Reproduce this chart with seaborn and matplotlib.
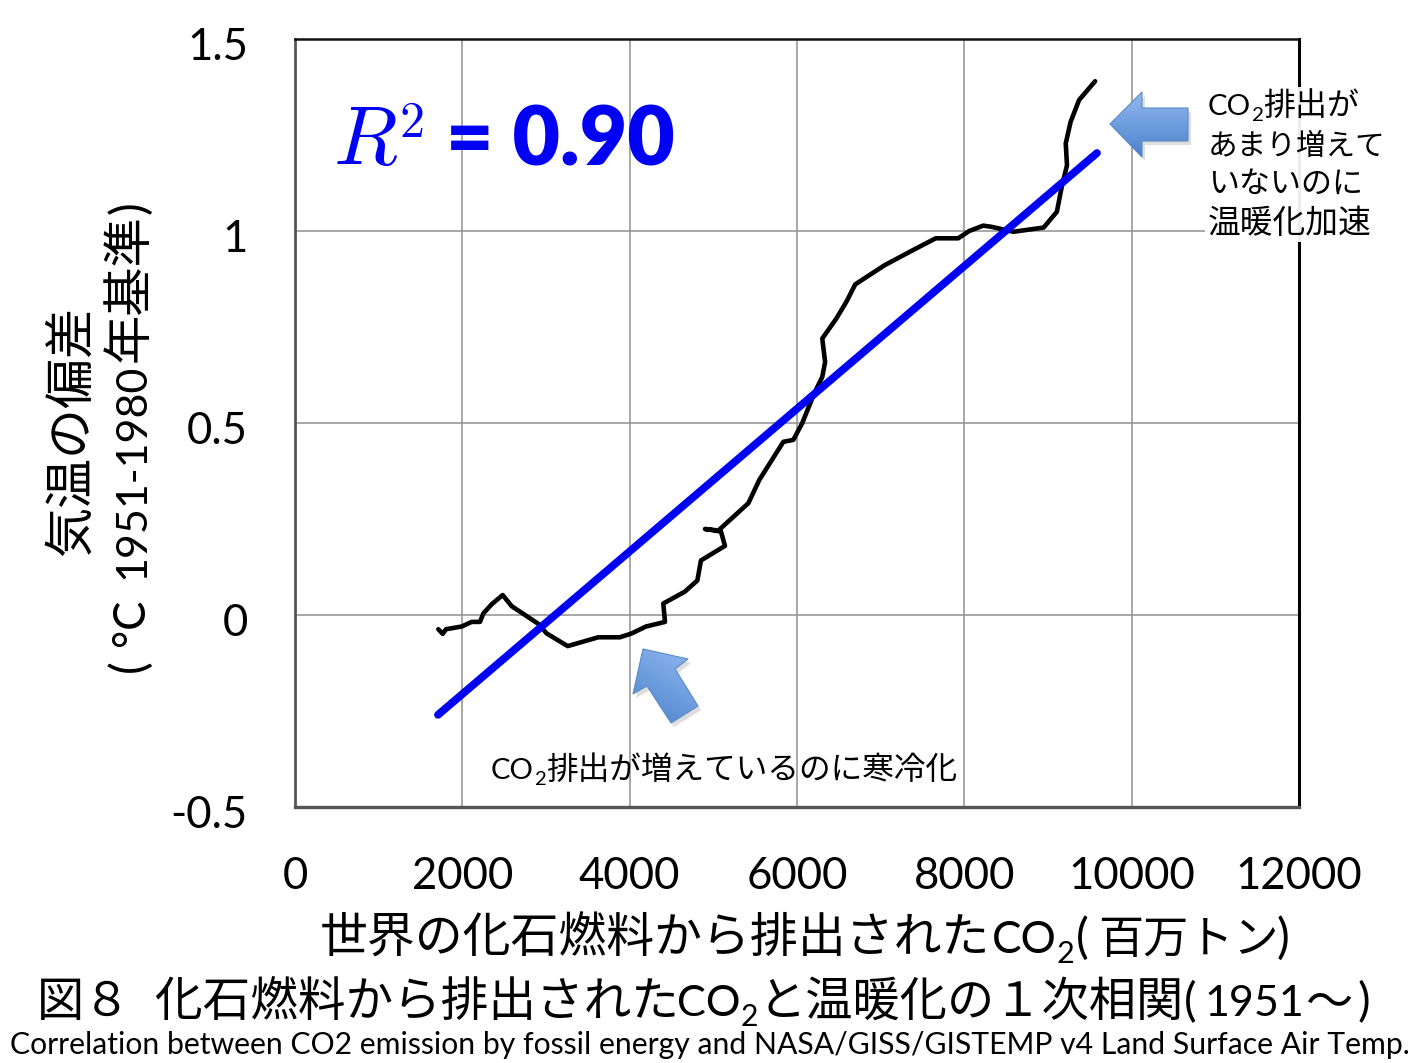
import matplotlib
matplotlib.use('Agg')
import matplotlib.pyplot as plt
from matplotlib.patches import Polygon, Rectangle
from matplotlib.transforms import ScaledTranslation
import numpy as np
import seaborn as sns

# CO2 emission (million tons) vs temperature anomaly
co2 = [1713,1765,1805,1992,2112,2211,2251,2351,2482,2590,2908,3008,3259,3625,3884,4024,4195,4422,4402,
	4661,4809,4852,5139,5092,5020,4900,5060,5418,5550,5837,5956,6061,6206,6302,6336,6302,6470,6591,6696,
	7048,7384,7658,7928,8058,8226,8322,8587,8948,9106,9164,9227,9212,9270,9371,9563]
temp = [-0.037,-0.049,-0.037,-0.030,-0.018,-0.018,0.004,0.028,0.052,0.023,-0.023,-0.048,-0.081,-0.058,-0.058,
	-0.048,-0.030,-0.018,0.030,0.061,0.090,0.142,0.180,0.217,0.220,0.224,0.220,0.291,0.352,0.451,0.456,0.499,
	0.577,0.620,0.659,0.720,0.772,0.816,0.861,0.911,0.950,0.981,0.981,1.000,1.014,1.011,0.998,1.009,1.050,
	1.115,1.171,1.228,1.284,1.341,1.390]
fit_x = [1709,9585]
fit_y = [-0.26,1.203]

xticks = [0,2000,4000,6000,8000,10000,12000]
yticks = [-0.5,0,0.5,1,1.5]
ylabels = ['-0.5','0','0.5','1','1.5']

W,H = 1416,1063
sns.set_theme(style='white')
jp = ['Lato','Noto Sans CJK JP']
plt.rcParams['font.family'] = jp
plt.rcParams['mathtext.fontset'] = 'cm'

f = plt.figure(figsize=(W/100,H/100),dpi=100)
ax = f.add_axes([295/W,1-807/H,(1299-295)/W,(807-39)/H])
sns.lineplot(x=co2,y=temp,sort=False,estimator=None,color='black',linewidth=3.3,ax=ax,
	solid_capstyle='round',solid_joinstyle='round',zorder=3)
sns.lineplot(x=fit_x,y=fit_y,sort=False,estimator=None,color='#0000f5',linewidth=5.6,ax=ax,
	solid_capstyle='round',zorder=4)
ax.set_xlim(0,12000)
ax.set_ylim(-0.5,1.5)
ax.set_xticks(xticks)
ax.set_xticklabels([str(i) for i in xticks])
ax.set_yticks(yticks)
ax.set_yticklabels(ylabels)
ax.grid(True,color='#8f8f8f',linewidth=1.1)
ax.set_axisbelow(True)
ax.tick_params(axis='both',length=0,labelsize=31.5,colors='black')
ax.tick_params(axis='x',pad=35)
ax.tick_params(axis='y',pad=34)
for t in ax.get_yticklabels():
	t.set_transform(t.get_transform()+ScaledTranslation(0,-3.5/72,f.dpi_scale_trans))
ax.spines['top'].set(color='#111111',linewidth=1.8)
ax.spines['right'].set(color='black',linewidth=2.2)
ax.spines['left'].set(color='#555555',linewidth=2)
ax.spines['bottom'].set(color='#555555',linewidth=2.4)

# overlay in picture pixels for the notes and arrows
ov = f.add_axes([0,0,1,1],zorder=5)
ov.set_xlim(0,W)
ov.set_ylim(H,0)
ov.axis('off')
ov.patch.set_alpha(0)

def put(x,y,txt,size,rot=0):
	return ov.text(x,y,txt,fontsize=size,family=jp,rotation=rot,rotation_mode='anchor',
		va='baseline',ha='left',color='black',zorder=8)

def co2_run(x,y,size):
	# CO with a small 2 after it, latin face is set a bit smaller than the kana
	t = put(x,y,'CO',size*0.92)
	x2 = t.get_window_extent(f.canvas.get_renderer()).x1
	t = put(x2,y+size*0.28,'2',size*0.64)
	return t.get_window_extent(f.canvas.get_renderer()).x1

def arrow(pts,c1,c2,mix=0.0):
	pts = np.array(pts,dtype=float)
	ov.add_patch(Polygon(pts+[3,4],closed=True,fc='#555555',ec='none',alpha=0.2,zorder=5))
	g = np.linspace(0,1,64).reshape(-1,1)
	g = np.hstack([g]*64)
	g = g*(1-mix)+g.T[:,::-1]*mix
	c1,c2 = np.array(matplotlib.colors.to_rgb(c1)),np.array(matplotlib.colors.to_rgb(c2))
	img = c1+(c2-c1)*g[...,None]
	x0,y0 = pts.min(axis=0)
	x1,y1 = pts.max(axis=0)
	im = ov.imshow(img,extent=[x0,x1,y1,y0],aspect='auto',zorder=6,interpolation='bilinear')
	p = Polygon(pts,closed=True,fc='none',ec='#5b8ac4',lw=0.8,zorder=7)
	ov.add_patch(p)
	im.set_clip_path(p)
	ov.set_xlim(0,W)
	ov.set_ylim(H,0)

arrow([(1110,124),(1142,92),(1142,108),(1188,108),(1188,141),(1142,141),(1142,157)],'#93b9f0','#4a82cc')
arrow([(643,649),(688,659),(675,669),(698,706),(671,723),(647,686),(633,694)],'#93b9f0','#4a82cc',0.35)

# white box of the side note cuts the right frame
ov.add_patch(Rectangle((1205,87),185,155,fc='white',ec='none',alpha=0.93,zorder=4))
x = co2_run(1208,115,23)
put(x,115,'排出が',23)
put(1208,155,'あまり増えて',21.3)
put(1208,193,'いないのに',22.3)
put(1208,233,'温暖化加速',23.6)
x = co2_run(491,779,22.8)
put(x,779,'排出が増えているのに寒冷化',22.8)

ov.text(333,164,r'$R$',fontsize=60,color='#0000f5',va='baseline',ha='left',zorder=8)
ov.text(399,137,r'$\mathit{2}$',fontsize=36,color='#0000f5',va='baseline',ha='left',zorder=8)
ov.text(446,165,'= 0.90',fontsize=59,color='#0000f5',fontweight='heavy',family=['Lato'],va='baseline',ha='left',zorder=8)

# rotated y label, one piece after the other going up
put(86,556,'気温の偏差',36,rot=90)
put(144,672,'(',34.5,rot=90)
put(144,646,'°C',31.5,rot=90)
put(144,579,'1951-1980',31,rot=90)
put(144,362,'年基準',35.5,rot=90)
put(144,214,')',34.5,rot=90)

# x label
put(320,953,'世界の化石燃料から排出された',34.5)
co2_run(992,953,34.5)
put(1076,953,'(',34.5)
put(1098,953,'百万トン',32.5)
put(1277,953,')',34.5)

# title
put(37,1016,'図８',34)
put(155,1016,'化石燃料から排出された',34.3)
co2_run(677,1016,34)
put(758,1016,'と温暖化の１次相関',34)
put(1184,1016,'(',34)
put(1204,1016,'1951',31)
put(1305,1016,'～',34)
put(1357,1016,')',34)

put(10,1054,'Correlation between CO2 emission by fossil energy and NASA/GISS/GISTEMP v4 Land Surface Air Temp.',21.73)

plt.savefig('out.png',dpi=100)
